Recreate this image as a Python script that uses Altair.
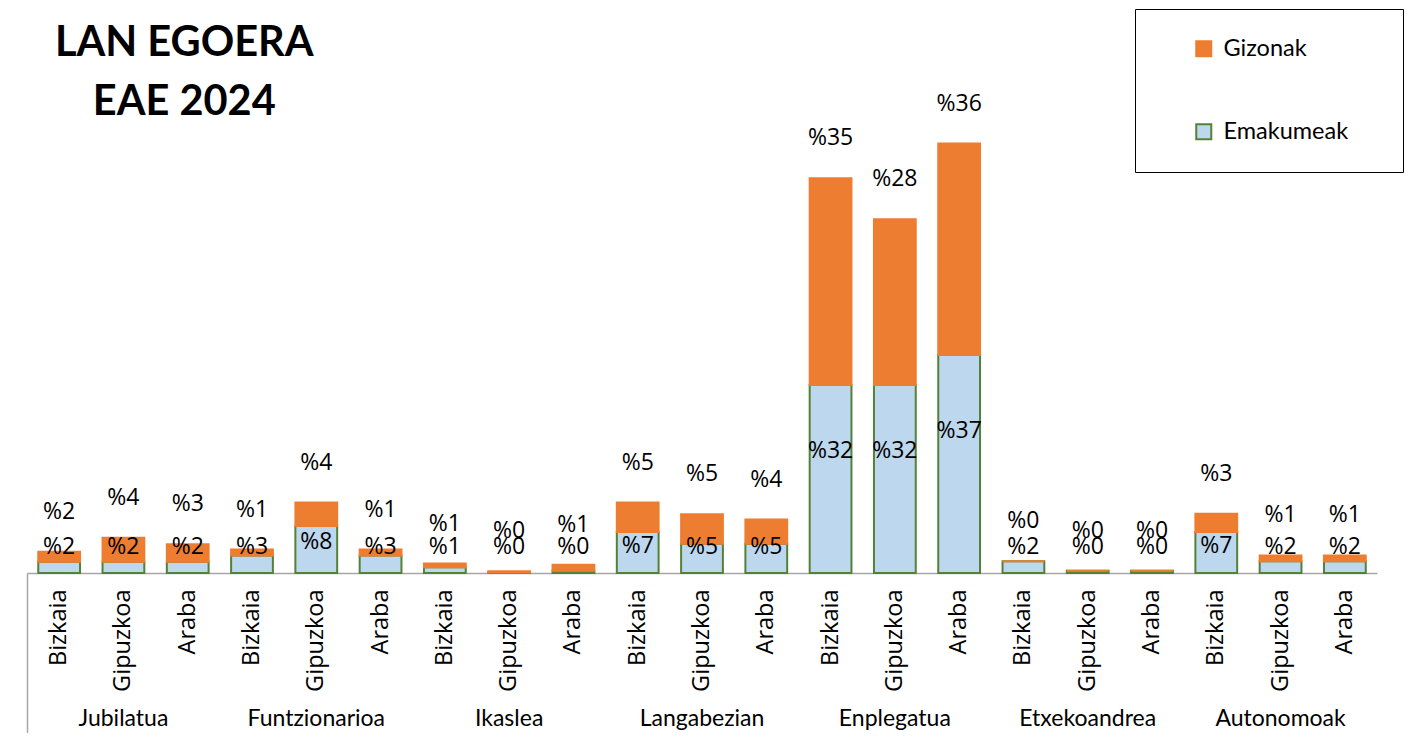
import altair as alt
import pandas as pd

groups = ["Jubilatua", "Funtzionarioa", "Ikaslea", "Langabezian",
          "Enplegatua", "Etxekoandrea", "Autonomoak"]
provinces = ["Bizkaia", "Gipuzkoa", "Araba"]
series = ["Gizonak", "Emakumeak"]

# percentages per bar (order: group x province)
emakumeak = [1.9, 1.9, 1.9, 3.0, 8.0, 3.0, 1.0, 0.1, 0.4, 7.0, 5.0, 5.0,
             32.0, 32.0, 37.1, 2.0, 0.4, 0.4, 7.0, 2.0, 2.0]
gizonak = [1.7, 4.1, 3.0, 1.0, 4.0, 1.0, 0.6, 0.2, 1.0, 5.0, 5.0, 4.1,
           35.2, 28.2, 36.0, 0.0, 0.0, 0.0, 3.1, 1.0, 1.0]

rows = []
keys = []
i = 0
for g in groups:
    for p in provinces:
        k = g + "|" + p
        keys.append(k)
        rows.append({"key": k, "group": g, "province": p, "series": "Emakumeak",
                     "ord": 0, "value": emakumeak[i]})
        rows.append({"key": k, "group": g, "province": p, "series": "Gizonak",
                     "ord": 1, "value": gizonak[i]})
        i += 1
df = pd.DataFrame(rows)

ORANGE = "#ED7D31"
BLUE = "#BDD7EE"
GREEN = "#548235"
AXIS = "#A6A6A6"

legend = alt.Legend(orient="none", legendX=1108, legendY=-94,
                    title="\u00a0", titleOrient="right", titlePadding=27,
                    titleFontSize=10,
                    strokeColor="black", padding=28, symbolOffset=29,
                    symbolType="square", symbolSize=225, symbolStrokeWidth=2,
                    labelFont="Lato", labelFontSize=23.5, labelColor="black",
                    labelOffset=8, rowPadding=58, labelLimit=400)

x_main = alt.X("key:N", sort=keys,
               scale=alt.Scale(paddingInner=0.35, paddingOuter=0.175),
               axis=alt.Axis(title=None, orient="bottom",
                             labelExpr="split(datum.label, '|')[1]",
                             labelAngle=-90, labelPadding=16, ticks=False,
                             domainColor=AXIS, domainWidth=1.5,
                             labelFont="Open Sans", labelFontSize=23.5,
                             labelColor="black"))

x_plain = alt.X("key:N", sort=keys, axis=None)

y_scale = alt.Scale(domain=[0, 80])

base = alt.Chart(df)

bars = base.mark_bar(strokeWidth=2).encode(
    x=x_main,
    y=alt.Y("value:Q", stack="zero", scale=y_scale, axis=None),
    color=alt.Color("series:N", scale=alt.Scale(domain=series, range=[ORANGE, BLUE]),
                    legend=legend),
    stroke=alt.Stroke("series:N", scale=alt.Scale(domain=series, range=[ORANGE, GREEN]),
                      legend=legend),
    order=alt.Order("ord:Q"),
)

label_font = dict(font="Open Sans", fontSize=23, color="black")

emak_labels = base.transform_filter(
    "datum.series == 'Emakumeak'"
).transform_calculate(
    lab="'%' + format(datum.value, '.0f')",
    ly="max(0.65 * datum.value, 4.5)",
).mark_text(baseline="middle", **label_font).encode(
    x=x_plain,
    y=alt.Y("ly:Q", scale=y_scale, axis=None),
    text="lab:N",
)

giz_labels = base.transform_joinaggregate(
    total="sum(value)", groupby=["key"]
).transform_filter(
    "datum.series == 'Gizonak'"
).transform_calculate(
    lab="'%' + format(datum.value, '.0f')",
).mark_text(baseline="middle", dy=-40, **label_font).encode(
    x=x_plain,
    y=alt.Y("total:Q", scale=y_scale, axis=None),
    text="lab:N",
)

group_axis = base.mark_point(opacity=0).encode(
    x=alt.X("key:N", sort=keys,
            axis=alt.Axis(title=None, orient="bottom",
                          labelExpr="split(datum.label, '|')[1] == 'Gipuzkoa' ? split(datum.label, '|')[0] : ''",
                          labelAngle=0, labelPadding=145, labelBaseline="middle",
                          domain=False, ticks=False,
                          labelFont="Lato", labelFontSize=23, labelColor="black",
                          labelOverlap=False)),
)

edge_axis = base.mark_point(opacity=0).encode(
    x=alt.X("key:N", sort=keys,
            axis=alt.Axis(title=None, orient="bottom", labels=False,
                          domain=False, ticks=True, bandPosition=0,
                          tickSize=168, tickWidth=1.5, tickOffset=-11.25,
                          tickColor={"condition": {"test": "datum.value === 'Jubilatua|Bizkaia'",
                                                   "value": AXIS},
                                     "value": "transparent"})),
)

chart = alt.layer(bars, emak_labels, giz_labels, group_axis, edge_axis).resolve_axis(
    x="independent"
).properties(
    width=1350, height=470,
    padding={"left": 19, "top": 95, "right": 27, "bottom": 160},
    autosize="none",
    title=alt.TitleParams(text=["LAN EGOERA", "EAE 2024"], anchor="start",
                          align="center", dx=158, dy=119, font="Lato", fontSize=41.5,
                          fontWeight="bold", color="black", lineHeight=59),
).configure_view(stroke="transparent")

chart.save("out.html", embed_options={"renderer": "svg", "actions": False})
